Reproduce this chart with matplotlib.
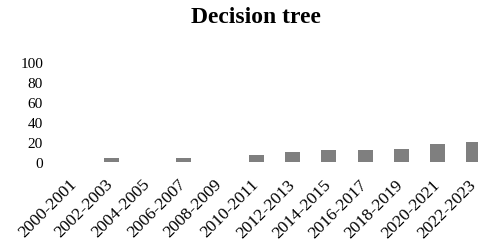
import matplotlib
matplotlib.use('Agg')
import matplotlib.pyplot as plt
import matplotlib.transforms as mtransforms

periods = ['2000-2001', '2002-2003', '2004-2005', '2006-2007', '2008-2009', '2010-2011',
           '2012-2013', '2014-2015', '2016-2017', '2018-2019', '2020-2021', '2022-2023']
values = [0, 4, 0, 4, 0, 7, 10, 12, 12, 13, 18, 20]
yticks = [0, 20, 40, 60, 80, 100]

plt.rcParams['font.family'] = ['Liberation Serif', 'DejaVu Serif']

fig = plt.figure(figsize=(4.78, 2.51), dpi=100)
ax = fig.add_axes([57 / 478, 88 / 251, 435 / 478, 100 / 251])

x = list(range(len(periods)))
ax.bar(x, values, width=0.41, color='#7f7f7f')

ax.set_xlim(-0.5, len(periods) - 0.5)
ax.set_ylim(0, 100)
ax.set_yticks(yticks)
ax.set_yticklabels([str(t) for t in yticks], fontsize=11)
ax.set_xticks(x)
ax.set_xticklabels(periods, fontsize=12.5, rotation=45, ha='right', rotation_mode='anchor')
ax.tick_params(axis='both', length=0)
ax.tick_params(axis='x', pad=10)
ax.tick_params(axis='y', pad=10)
for s in ax.spines.values():
    s.set_visible(False)

# nudge rotated labels so their top-right end sits over the bar
shift = mtransforms.ScaledTranslation(-6 / 100, 0, fig.dpi_scale_trans)
for lbl in ax.get_xticklabels():
    lbl.set_transform(lbl.get_transform() + shift)

fig.text(256 / 478, 1 - 17.5 / 251, 'Decision tree', fontsize=17, fontweight='bold',
         ha='center', va='center')

fig.savefig('out.png', dpi=100)
